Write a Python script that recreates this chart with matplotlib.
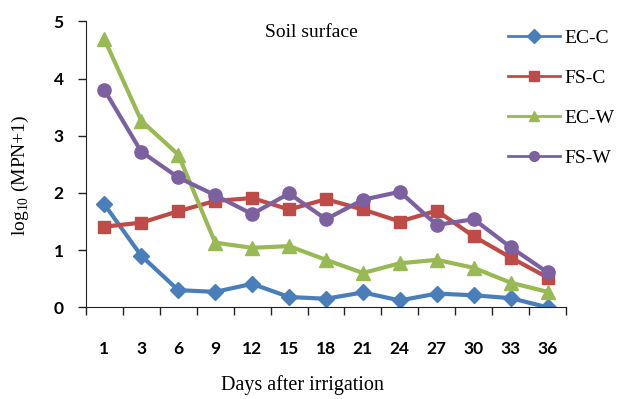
import matplotlib
matplotlib.use("Agg")
import matplotlib.pyplot as plt

# datos
dias = ["1", "3", "6", "9", "12", "15", "18", "21", "24", "27", "30", "33", "36"]
ec_c = [1.80, 0.90, 0.30, 0.27, 0.41, 0.18, 0.15, 0.26, 0.12, 0.24, 0.21, 0.16, 0.0]
fs_c = [1.41, 1.48, 1.68, 1.86, 1.91, 1.71, 1.89, 1.71, 1.50, 1.69, 1.24, 0.87, 0.52]
ec_w = [4.69, 3.26, 2.67, 1.13, 1.04, 1.07, 0.83, 0.60, 0.77, 0.83, 0.69, 0.43, 0.27]
fs_w = [3.80, 2.72, 2.27, 1.96, 1.63, 1.99, 1.54, 1.88, 2.02, 1.44, 1.54, 1.05, 0.61]

plt.rcParams['mathtext.fontset'] = 'custom'
plt.rcParams['mathtext.rm'] = 'Liberation Serif'

fig = plt.figure(figsize=(6.18, 3.99), dpi=100)
ax = fig.add_axes([0.139, 0.2298, 0.777, 0.7168])

x = range(len(dias))
ax.plot(x, ec_c, color='#4A7EBB', lw=3, marker='D', ms=8, label='EC-C')
ax.plot(x, fs_c, color='#BE4B48', lw=3, marker='s', ms=8, label='FS-C')
ax.plot(x, ec_w, color='#98B954', lw=3, marker='^', ms=10, label='EC-W')
ax.plot(x, fs_w, color='#7D60A0', lw=3, marker='o', ms=9.5, label='FS-W')

ax.set_ylim(0, 5)
ax.set_xlim(-0.5, len(dias) - 0.5)
for s in ['top', 'right']:
    ax.spines[s].set_visible(False)
for s in ['left', 'bottom']:
    ax.spines[s].set_color('#222222')

ax.set_yticks(range(6))
ax.set_yticklabels([str(v) for v in range(6)], fontfamily='Lato', fontweight='bold', fontsize=12.5)
ax.tick_params(axis='y', length=6, width=1, color='#222222', pad=10)

ax.set_xticks([i - 0.5 for i in range(len(dias) + 1)])
ax.set_xticklabels([])
ax.set_xticks(list(x), minor=True)
ax.set_xticklabels(dias, minor=True, fontfamily='Lato', fontweight='bold', fontsize=12.5)
ax.tick_params(axis='x', which='major', length=6, width=1, color='#222222')
ax.tick_params(axis='x', which='minor', length=0, pad=24)

ax.text(0.47, 0.96, 'Soil surface', transform=ax.transAxes, ha='center', va='center',
        fontfamily='Liberation Serif', fontsize=14)
fig.text(0.489, 0.035, 'Days after irrigation', ha='center', va='center',
         fontfamily='Liberation Serif', fontsize=14.5)
fig.text(0.033, 0.56, r'log$_{\mathrm{10}}$ (MPN+1)', rotation=90, ha='center', va='center',
         fontfamily='Liberation Serif', fontsize=14)

leg = ax.legend(loc='upper left', bbox_to_anchor=(0.862, 1.0), frameon=False,
                prop={'family': 'Liberation Serif', 'size': 14}, labelspacing=1.15,
                handlelength=2.7, handletextpad=0.2, borderaxespad=0)
for h in leg.legend_handles:
    h.set_linewidth(2)
    h.set_markersize(7)

fig.savefig('out.png', dpi=100)
